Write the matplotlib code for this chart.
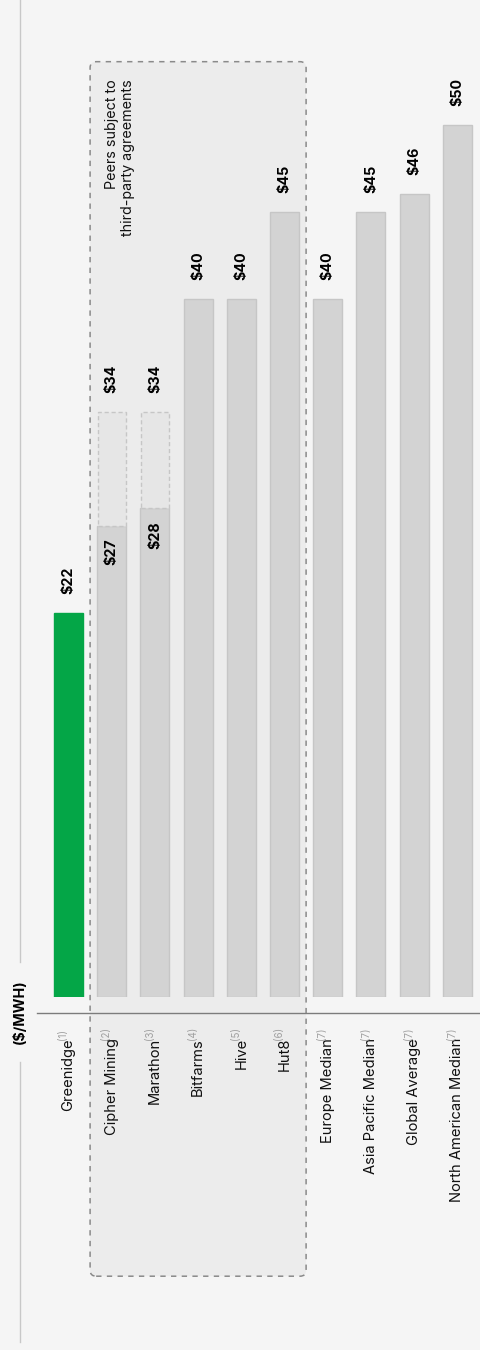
import numpy as np
import matplotlib
matplotlib.use('Agg')
import matplotlib.pyplot as plt
from matplotlib.patches import FancyBboxPatch
from matplotlib.lines import Line2D

plt.rcParams['font.family'] = ['Inter', 'DejaVu Sans']

# data
categories = ['Greenidge', 'Cipher Mining', 'Marathon', 'Bitfarms', 'Hive', 'Hut8',
              'Europe Median', 'Asia Pacific Median', 'Global Average', 'North American Median']
notes = ['(1)', '(2)', '(3)', '(4)', '(5)', '(6)', '(7)', '(7)', '(7)', '(7)']
values = [22, 27, 28, 40, 40, 45, 40, 45, 46, 50]
high_values = [np.nan, 33.5, 33.5, np.nan, np.nan, np.nan, np.nan, np.nan, np.nan, np.nan]
bar_colors = ['#04a647'] + ['#d3d3d3'] * 9

W, H = 481, 1350
fig = plt.figure(figsize=(W / 100, H / 100), dpi=100)
fig.patch.set_facecolor('#f5f5f5')

# axes placed so bars land where they do in the picture
px_cat = 43.2
px_val = 17.45
x0 = 68.5 - 0.5 * px_cat
base = 997
ymax = 55
ax = fig.add_axes([x0 / W, (H - base) / H, 10 * px_cat / W, ymax * px_val / H])
ax.set_xlim(-0.5, 9.5)
ax.set_ylim(0, ymax)
ax.axis('off')

x = np.arange(len(categories))

# peers box
box = FancyBboxPatch((0.5, -16.0), 5.0, 69.6,
                     boxstyle='round,pad=0,rounding_size=0.14',
                     mutation_aspect=px_cat / px_val,
                     facecolor='#ececec', edgecolor='#8a8a8a', linewidth=1.1,
                     linestyle=(0, (3.5, 3.5)), clip_on=False, zorder=0)
ax.add_patch(box)
ax.text(1.19, 52.6, 'Peers subject to\nthird-party agreements', rotation=90,
        ha='center', va='top', multialignment='right', fontsize=10.3,
        linespacing=1.12, color='#111111')

# bars
ax.bar(x, values, width=0.67, color=bar_colors, edgecolor=['#04a647'] + ['#c6c6c6'] * 9,
       linewidth=1, zorder=2)
hv = np.array(high_values)
mask = ~np.isnan(hv)
ax.bar(x[mask], hv[mask] - np.array(values)[mask], bottom=np.array(values)[mask],
       width=0.64, color='#e6e6e6', edgecolor='#c6c6c6', linewidth=1,
       linestyle=(0, (3, 2)), zorder=2)

# value labels
for i, v in enumerate(values):
    if mask[i]:
        ax.annotate(f'${v:.0f}', (i, v), xytext=(0, -13), textcoords='offset pixels',
                    rotation=90, ha='center', va='top', fontsize=10.3, fontweight='bold')
        ax.annotate(f'${hv[i]:.0f}', (i, hv[i]), xytext=(0, 19), textcoords='offset pixels',
                    rotation=90, ha='center', va='bottom', fontsize=10.3, fontweight='bold')
    else:
        ax.annotate(f'${v:.0f}', (i, v), xytext=(0, 19), textcoords='offset pixels',
                    rotation=90, ha='center', va='bottom', fontsize=10.3, fontweight='bold')

# baseline axis line
ax.plot([-0.72, 9.5], [-0.92, -0.92], color='#7c7c7c', linewidth=1, clip_on=False)

# category labels with grey footnote marks
for i, (c, n) in enumerate(zip(categories, notes)):
    t = ax.text(i, -2.35, c, rotation=90, ha='center', va='top', fontsize=10.6,
                color='#111111')
    ax.annotate(n, xy=(0.12, 1.0), xycoords=t, xytext=(0, -2), textcoords='offset pixels',
                rotation=90, ha='center', va='bottom', fontsize=7, color='#a0a0a0')

# unit label and left guide line
fig.text(19.5 / W, 1 - 1012 / H, '($/MWH)', rotation=90, ha='center', va='center',
         fontsize=10.3, fontweight='bold')
fig.add_artist(Line2D([20 / W, 20 / W], [1, 1 - 962 / H], color='#c8c8c8', linewidth=1))
fig.add_artist(Line2D([20 / W, 20 / W], [1 - 1062 / H, 1 - 1342 / H], color='#c8c8c8',
                      linewidth=1))

fig.savefig('out.png', dpi=100, facecolor=fig.get_facecolor())
